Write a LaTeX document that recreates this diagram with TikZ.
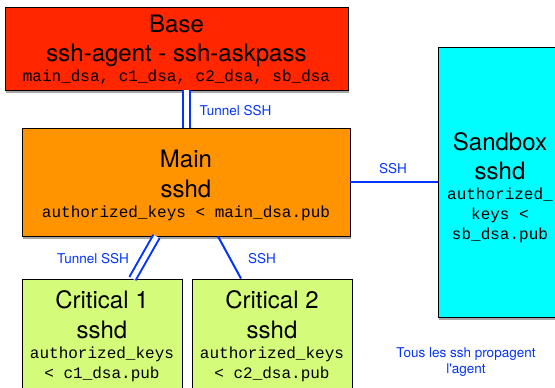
\documentclass[tikz,border=0pt]{standalone}
\usepackage{fontspec}
\setsansfont{TeX Gyre Heros}
\setmonofont{Liberation Mono}
\usetikzlibrary{shadows}

\definecolor{maraschino}{HTML}{FF2600}
\definecolor{tangerine}{HTML}{FF9300}
\definecolor{turquoise}{HTML}{00FDFF}
\definecolor{honeydew}{HTML}{D4FB79}
\definecolor{blueberry}{HTML}{0433FF}

% key lines are set closer than the titles
\newcommand{\keyfont}{\ttfamily\fontsize{16}{20}\selectfont}
\newcommand{\keyline}{\\[-9.5pt]\keyfont}
\newcommand{\lift}[1]{\rule{0pt}{#1}}

\begin{document}
\begin{tikzpicture}[x=1pt, y=-1pt, thick,
    host/.style = {draw, line width=0.8pt, rectangle, align=center, inner sep=0pt,
      font=\sffamily\fontsize{24}{29.5}\selectfont,
      drop shadow={shadow xshift=1pt, shadow yshift=-3pt, opacity=.35, fill=black}},
    link/.style = {draw=blueberry, line width=2pt},
    tunnel/.style = {draw=blueberry, line width=2pt, double=white, double distance=5pt},
    note/.style = {text=blueberry, font=\sffamily\fontsize{13.5}{16}\selectfont, align=center}]
    \useasboundingbox (0,0) rectangle (555,388);

    % machines
    \node[host, fill=maraschino, minimum width=343pt, minimum height=83pt] (base) at (176.5,48.5)
      {\lift{20.3pt}Base\\ssh-agent - ssh-askpass\keyline main\_dsa, c1\_dsa, c2\_dsa, sb\_dsa};
    \node[host, fill=tangerine, minimum width=328pt, minimum height=108pt] (main) at (186,182)
      {\lift{24.3pt}Main\\sshd\keyline authorized\_keys < main\_dsa.pub};
    \node[host, fill=turquoise, minimum width=124pt, minimum height=270pt] (sandbox) at (500,182)
      {\lift{29.3pt}Sandbox\\sshd\keyline authorized\_\keyline keys <\keyline sb\_dsa.pub};
    \node[host, fill=honeydew, minimum width=160pt, minimum height=114pt] (crit1) at (102,336)
      {Critical 1\\sshd\keyline authorized\_keys\keyline < c1\_dsa.pub};
    \node[host, fill=honeydew, minimum width=160pt, minimum height=114pt] (crit2) at (272,336)
      {Critical 2\\sshd\keyline authorized\_keys\keyline < c2\_dsa.pub};

    % connections
    \draw[tunnel] (main.north |- base.south) -- (main.north);
    \draw[link] (main) -- (sandbox);
    \draw[tunnel] ([xshift=-29.5pt]main.south) -- ([xshift=30.5pt]crit1.north);
    \draw[link] ([xshift=32pt]main.south) -- ([xshift=-31pt]crit2.north);

    % labels
    \node[note, anchor=west] (tunnelA) at (196,111) {Tunnel SSH};
    \node[note] (sshA) at (393,169) {SSH};
    \node[note] (tunnelB) at (93,259) {Tunnel SSH};
    \node[note] (sshB) at (262,259) {SSH};
    \node[note] (agent) at (466,362.5) {Tous les ssh propagent\\l\textquotesingle agent};
\end{tikzpicture}
\end{document}
